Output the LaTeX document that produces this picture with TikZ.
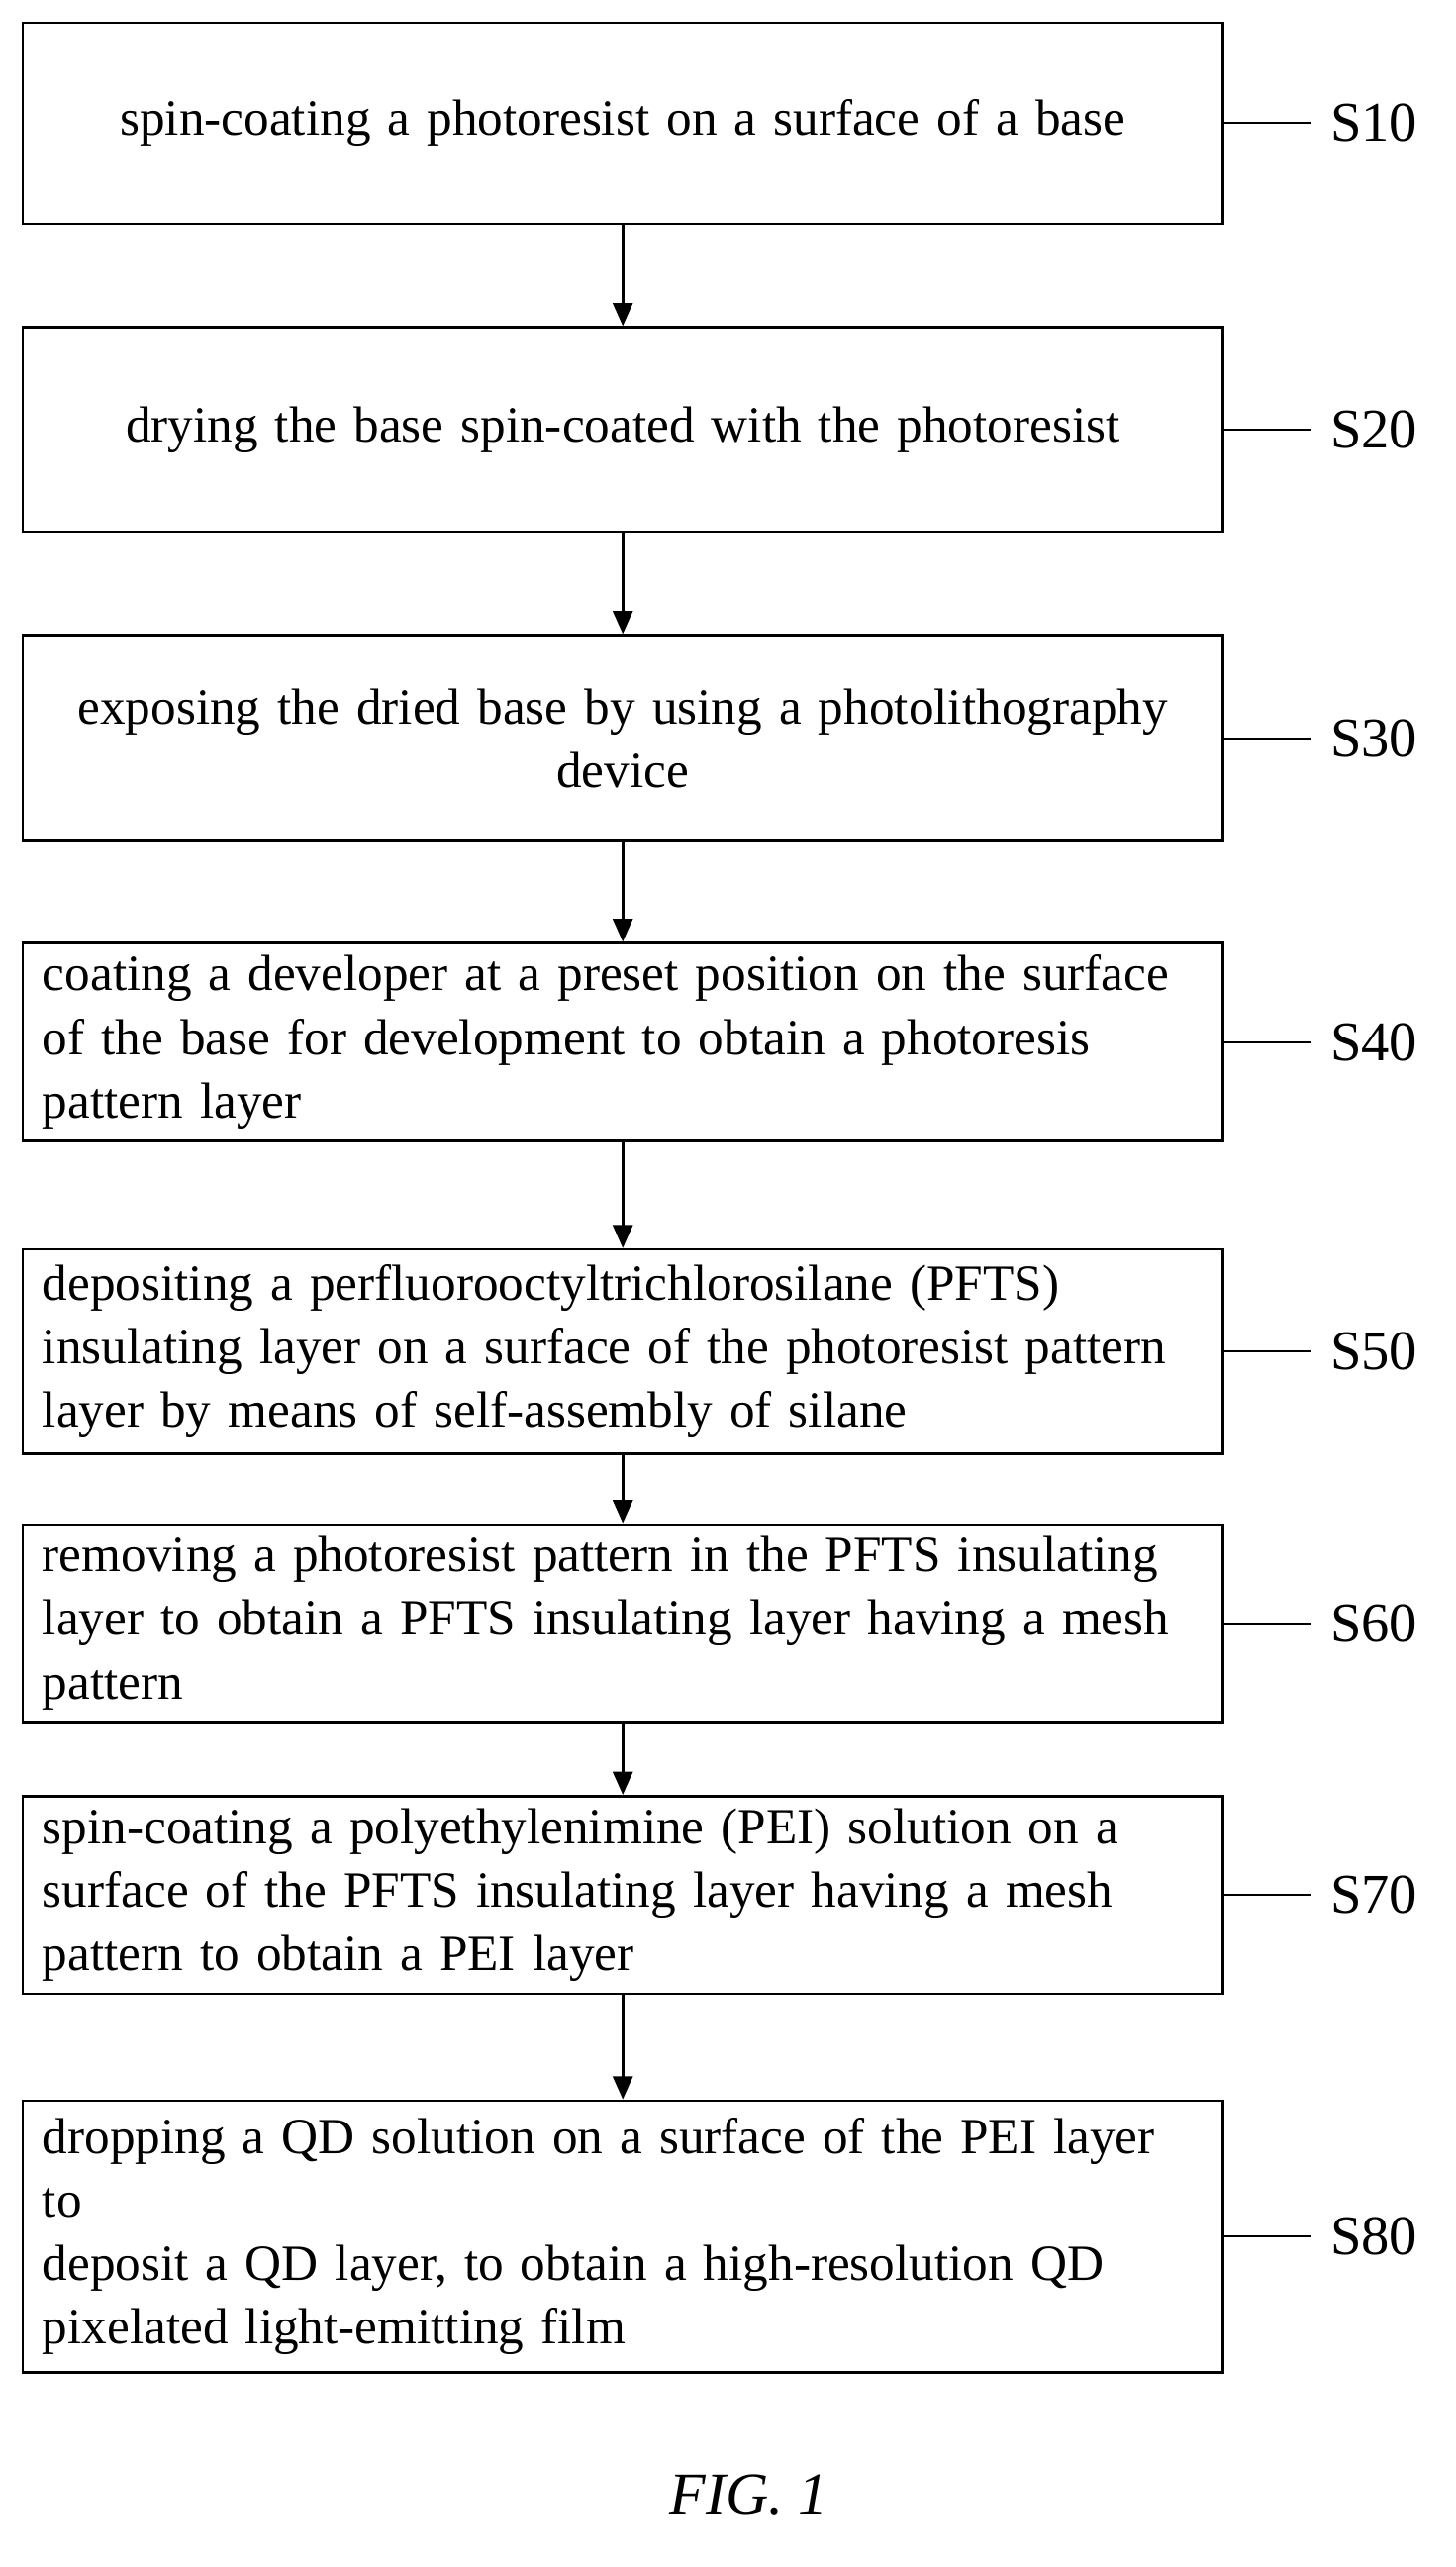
\documentclass[tikz,border=0pt]{standalone}
\usepackage{fontspec}
\setmainfont{Liberation Serif}
\usetikzlibrary{arrows.meta}
\begin{document}
\begin{tikzpicture}[x=1pt,y=-1pt,
  boxc/.style={draw,line width=1.6pt,minimum width=729pt,anchor=north west,inner sep=0pt,font=\fontsize{30.8}{38.5}\selectfont,align=center,text width=720pt},
  boxl/.style={draw,line width=1.6pt,minimum width=729pt,anchor=north west,inner ysep=0pt,inner xsep=12pt,font=\fontsize{30.8}{38.5}\selectfont,align=left,text width=705pt},
  arr/.style={line width=1.6pt,-{Triangle[length=14pt,width=12pt]}},
  lab/.style={font=\fontsize{34}{36}\selectfont,anchor=west}]
\useasboundingbox (0,0) rectangle (884,1559);
\node[boxc,minimum height=122pt] (b1) at (13,13) {spin-coating a photoresist on a surface of a base};
\node[boxc,minimum height=124pt] (b2) at (13,198) {drying the base spin-coated with the photoresist};
\node[boxc,minimum height=125pt] (b3) at (13,385) {exposing the dried base by using a photolithography\\device};
\node[boxl,minimum height=120pt] (b4) at (13,572) {coating a developer at a preset position on the surface\\of the base for development to obtain a photoresis\\pattern layer};
\node[boxl,minimum height=124pt] (b5) at (13,758) {depositing a perfluorooctyltrichlorosilane (PFTS)\\insulating layer on a surface of the photoresist pattern\\layer by means of self-assembly of silane};
\node[boxl,minimum height=120pt] (b6) at (13,925) {removing a photoresist pattern in the PFTS insulating\\layer to obtain a PFTS insulating layer having a mesh\\pattern};
\node[boxl,minimum height=120pt] (b7) at (13,1090) {spin-coating a polyethylenimine (PEI) solution on a\\surface of the PFTS insulating layer having a mesh\\pattern to obtain a PEI layer};
\node[boxl,minimum height=165pt] (b8) at (13,1275) {dropping a QD solution on a surface of the PEI layer to\\deposit a QD layer, to obtain a high-resolution QD\\pixelated light-emitting film};
\foreach \a/\b in {b1/b2,b2/b3,b3/b4,b4/b5,b5/b6,b6/b7,b7/b8}{\draw[arr] (\a.south) -- (\b.north);}
\foreach \b/\s in {b1/S10,b2/S20,b3/S30,b4/S40,b5/S50,b6/S60,b7/S70,b8/S80}{
  \coordinate (e\b) at ([xshift=53pt]\b.east);
  \draw[line width=1.2pt] (\b.east) -- (e\b);
  \node[lab] (l\b) at ([xshift=8pt]e\b) {\s};}
\node[font=\itshape\fontsize{36}{40}\selectfont] (fig) at (455,1515) {FIG. 1};
\end{tikzpicture}
\end{document}
